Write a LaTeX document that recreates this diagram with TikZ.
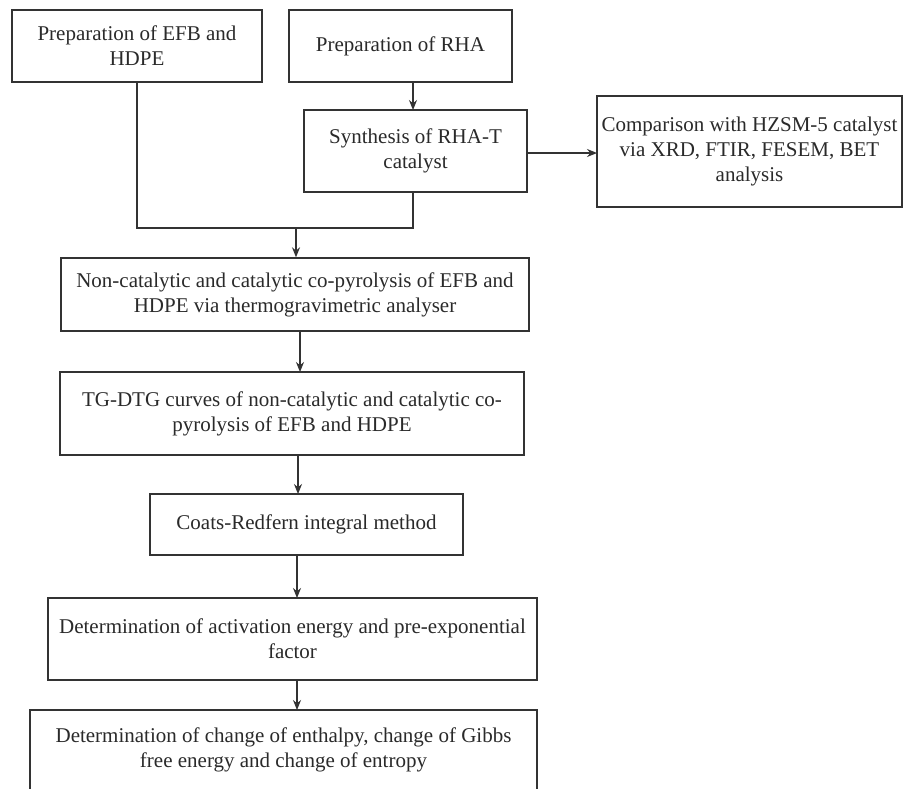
\documentclass[tikz,border=0pt]{standalone}
\usepackage{fontspec}
\setmainfont{Liberation Serif}
\usetikzlibrary{arrows.meta}
\definecolor{ln}{HTML}{333333}
\definecolor{tx}{HTML}{2A2A2A}
\begin{document}
\begin{tikzpicture}[x=1pt,y=-1pt,
  box/.style={draw=ln,line width=1.4pt,rectangle,align=center,inner sep=0pt,
    text=tx,font=\fontsize{21}{25}\selectfont},
  conn/.style={draw=ln,line width=1.3pt},
  arr/.style={conn,-{Stealth[length=10pt,width=8pt]}}]
\useasboundingbox (0,0) rectangle (903,788);
\fill[white] (0,0) rectangle (903,788);
\node[box,minimum width=250pt,minimum height=72pt] (b1) at (137,46) {Preparation of EFB and\\HDPE};
\node[box,minimum width=223pt,minimum height=72pt] (b2) at (400.5,46) {Preparation of RHA};
\node[box,minimum width=223pt,minimum height=82pt] (b3) at (415.5,151) {Synthesis of RHA-T\\catalyst};
\node[box,minimum width=305pt,minimum height=111pt] (b4) at (749.5,151.5) {Comparison with HZSM-5 catalyst\\via XRD, FTIR, FESEM, BET\\analysis};
\node[box,minimum width=468pt,minimum height=73pt] (b5) at (295,294.5) {Non-catalytic and catalytic co-pyrolysis of EFB and\\HDPE via thermogravimetric analyser};
\node[box,minimum width=464pt,minimum height=83pt] (b6) at (292,413.5) {TG-DTG curves of non-catalytic and catalytic co-\\pyrolysis of EFB and HDPE};
\node[box,minimum width=313pt,minimum height=61pt] (b7) at (306.5,524.5) {Coats-Redfern integral method};
\node[box,minimum width=489pt,minimum height=82pt] (b8) at (292.5,639) {Determination of activation energy and pre-exponential\\factor};
\node[box,minimum width=507pt,minimum height=80pt] (b9) at (283.5,750) {Determination of change of enthalpy, change of Gibbs\\free energy and change of entropy};
\coordinate (m) at (296,228);
\coordinate (ml) at (137,228);
\coordinate (mr) at (413,228);
\coordinate (b3s) at (413,192);
\coordinate (b2s) at (413,82);
\coordinate (b3n) at (413,110);
\coordinate (b3e) at (527,153);
\coordinate (b4w) at (597,153);
\draw[conn] (b1.south) -- (ml) -- (mr) -- (b3s);
\draw[arr] (m) -- (m |- b5.north);
\draw[arr] (b2s) -- (b3n);
\draw[arr] (b3e) -- (b4w);
\coordinate (a5) at (300,331); \coordinate (a6) at (300,372);
\coordinate (c6) at (298,455); \coordinate (c7) at (298,494);
\coordinate (d7) at (297,555); \coordinate (d8) at (297,598);
\coordinate (e8) at (297,680); \coordinate (e9) at (297,710);
\draw[arr] (a5) -- (a6);
\draw[arr] (c6) -- (c7);
\draw[arr] (d7) -- (d8);
\draw[arr] (e8) -- (e9);
\end{tikzpicture}
\end{document}
